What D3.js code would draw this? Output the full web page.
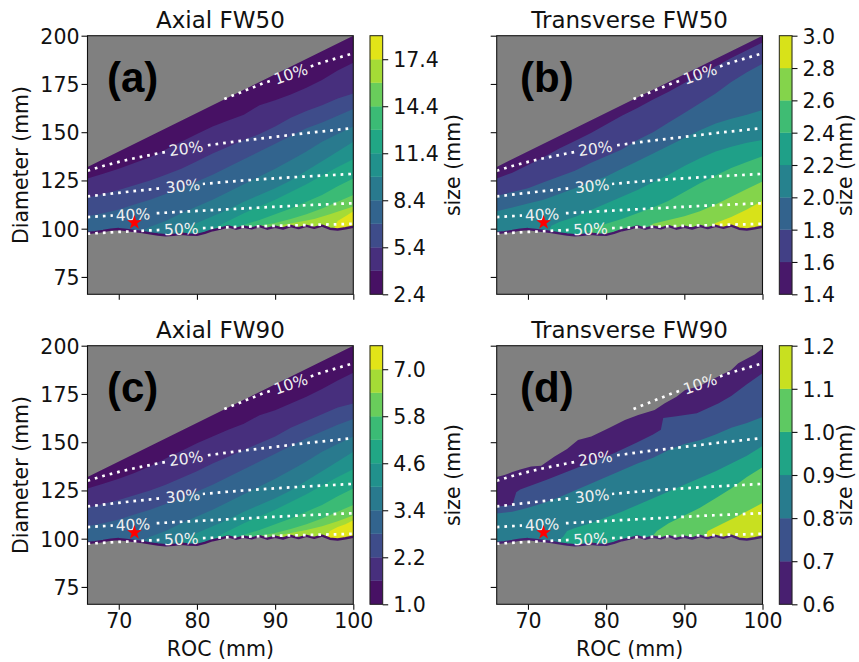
<!DOCTYPE html>
<html>
<head>
<meta charset="utf-8">
<script src="https://cdn.jsdelivr.net/npm/d3@7"></script>
<style>
  body { margin: 0; background: #fff; }
  svg text { font-family: "DejaVu Sans", sans-serif; fill: #111; }
</style>
</head>
<body>
<svg id="fig" width="859" height="662"></svg>
<script>
// ---- axes -----------------------------------------------------------------
const rocDomain = [66, 100];
const diamDomain = [66, 200];
const rocTicks = [70, 80, 90, 100];
const diamTicks = [75, 100, 125, 150, 175, 200];

// ---- filled-contour levels and colourbar ticks ------------------------------
const levelsA = [2.4, 3.9, 5.4, 6.9, 8.4, 9.9, 11.4, 12.9, 14.4, 15.9, 17.4, 18.9];
const cbarTicksA = [2.4, 5.4, 8.4, 11.4, 14.4, 17.4];
const levelsB = [1.4, 1.6, 1.8, 2.0, 2.2, 2.4, 2.6, 2.8, 3.0];
const cbarTicksB = [1.4, 1.6, 1.8, 2.0, 2.2, 2.4, 2.6, 2.8, 3.0];
const levelsC = [1.0, 1.6, 2.2, 2.8, 3.4, 4.0, 4.6, 5.2, 5.8, 6.4, 7.0, 7.6];
const cbarTicksC = [1.0, 2.2, 3.4, 4.6, 5.8, 7.0];
const levelsD = [0.6, 0.7, 0.8, 0.9, 1.0, 1.1, 1.2];
const cbarTicksD = [0.6, 0.7, 0.8, 0.9, 1.0, 1.1, 1.2];

// ---- valid (ROC, Diameter) region ------------------------------------------
const lowerEdge = [[66,97.8],[67,98.2],[68,98.8],[69,99.5],[70,99.8],[71,99.3],[72,98.8],[73,98.3],
  [74,97.6],[75,97.0],[76,96.6],[77,96.8],[78,97.4],[79,97.0],[80,96.8],[81,97.8],[82,99.2],
  [83,100.0],[84,101.2],[85,100.0],[86,101.0],[87,100.2],[88,101.3],[89,100.0],[90,101.0],
  [91,100.1],[92,101.4],[93,100.3],[94,101.5],[95,100.4],[96,101.6],[97,100.0],[98,99.6],
  [99,100.2],[100,101.0]];
const upperEdge = [[66,132],[100,200]];
const upperEdgeD = [[66,132],[67,133],[68,134.5],[69,135.8],[70.4,137.4],[71.7,137.8],[73.4,142.6],
  [75,146.5],[76.4,151.2],[78.1,152.9],[80.3,157.2],[82.4,161.5],[84.1,164.1],[86.2,166.7],
  [87.5,170.2],[89,173.5],[90.1,177.1],[91.8,178.8],[93.9,183.1],[96,187.4],[96.9,190.9],
  [99,195.5],[100,198.5]];

// ---- contour level boundaries (ROC, Diameter), lowest level first ---------
const edgesA = [
  [[66,126],[68,128.5],[70,131],[72,134],[74,137],[76,141],[78,145],[80,149],[82,153],[84,156],[86,159],[88,164],[90,166.5],[92,169.5],[94,173],[96,177],[98,182],[100,186]],
  [[66,116],[68,118],[70,120],[72,122.5],[74,125],[76,128],[78,131],[80,135],[82,139],[84,142.5],[86,146],[88,149],[90,153],[92,157.5],[94,161],[96,164],[98,167.5],[100,170]],
  [[66,106.5],[68,108],[70,110],[72,112.5],[74,115],[76,118],[78,121],[80,124.5],[82,128],[84,132],[86,136],[88,140],[90,144],[92,148],[94,152],[96,155],[98,158.5],[100,162]],
  [[72.5,97],[74,101],[76,104],[78,108],[80,111.5],[82,115],[84,119],[86,123],[88,127],[90,131],[92,135.5],[94,140],[96,145],[98,149],[100,153]],
  [[76.5,96],[78,99.5],[80,103],[82,106.5],[84,110],[86,114],[88,117.5],[90,121],[92,125],[94,130],[96,135],[98,140],[100,145]],
  [[80.5,96.5],[82,100],[84,104],[86,108],[88,111.5],[90,115],[92,119],[94,123],[96,127.5],[98,132],[100,136]],
  [[84,99.5],[86,102],[88,104.5],[90,107.5],[92,110.5],[94,114],[96,117.5],[98,122],[100,126]],
  [[85.5,99.5],[88,101.5],[90,103],[92,105],[94,107.5],[96,110.5],[98,114],[100,117.5]],
  [[89,99.5],[91,102],[93,103.5],[95,105],[97,107.5],[100,111.5]],
  [[97.5,99.5],[98,104],[99,106.5],[100,109]]
];
const edgesB = [
  [[66,126],[68,129],[70,133],[72,137],[74,141.5],[76,145.5],[78,149.5],[80,154],[82,158.5],[84,162.5],[86,167],[88,171],[90,175.5],[92,179.5],[94,184],[96,188.5],[98,192.5],[100,196.5]],
  [[66,117],[68,119],[70,121],[72,124],[74,127],[76,130],[78,134],[80,137.5],[82,141],[84,146],[86,150],[88,155],[90,160],[92,165],[94,170],[96,176],[98,181],[100,185.5]],
  [[66,109],[68,111],[70,113],[72,115],[74,118],[76,121],[78,124],[80,127],[82,131],[84,135],[86,139],[88,143],[90,147],[92,151],[94,154.5],[96,157],[98,159],[100,161.5]],
  [[72.5,97.5],[73,101.5],[74,103.5],[76,106],[78,109.5],[80,113],[82,116.5],[84,120],[86,124],[88,128],[90,132.5],[92,136.5],[94,140],[96,142.5],[98,144.5],[100,146]],
  [[77.5,96.5],[78,100],[80,102.5],[82,105],[84,108],[86,111],[88,114.5],[90,119],[92,123.5],[94,127.5],[96,131.5],[98,134.5],[100,137.5]],
  [[85,99.5],[86,102.5],[88,104.5],[90,106.5],[92,109],[94,112.5],[96,116.5],[98,120.5],[100,124.5]],
  [[93,100],[94,103],[96,106],[98,110],[100,114.5]]
];
const edgesC = [
  [[66,126],[68,128.5],[70,131],[72,134],[74,137.5],[76,141.5],[78,145.5],[80,149.5],[82,153],[84,156.5],[86,159.5],[88,164],[90,166.5],[92,170],[94,173.5],[96,177.5],[98,182],[100,186]],
  [[66,116],[68,118],[70,120],[72,122.5],[74,125],[76,128],[78,131.5],[80,135],[82,139],[84,142.5],[86,146],[88,149.5],[90,153],[92,157.5],[94,161],[96,164.5],[98,168],[100,170]],
  [[66,106.5],[68,108],[70,110],[72,112.5],[74,115],[76,118],[78,121],[80,124.5],[82,128],[84,132],[86,136],[88,140],[90,144],[92,148],[94,152],[96,155.5],[98,159],[100,162]],
  [[72.5,97],[74,101],[76,104],[78,108],[80,111.5],[82,115],[84,119],[86,123],[88,127],[90,131],[92,135.5],[94,140],[96,145],[98,149],[100,153]],
  [[76.5,96],[78,99.5],[80,103],[82,106.5],[84,110],[86,114],[88,117.5],[90,121],[92,125],[94,130],[96,135],[98,140],[100,145]],
  [[80.5,96.5],[82,100],[84,104],[86,108],[88,111.5],[90,115],[92,119],[94,123],[96,127.5],[98,132],[100,136]],
  [[84,99.5],[86,102],[88,104.5],[90,107.5],[92,110.5],[94,114],[96,117.5],[98,122],[100,126]],
  [[85.5,99.5],[88,101.5],[90,103],[92,105],[94,107.5],[96,110.5],[98,114],[100,117.5]],
  [[88,99.5],[90,101.5],[92,103],[94,104.5],[96,106.5],[98,109],[100,112]],
  [[96.5,99.8],[97,104],[98,106],[99,107.5],[100,109.5]]
];
const edgesD = [
  [[66,116.7],[68,117.5],[68.5,124],[69,125.5],[72.4,130.5],[76.7,137.4],[81,144.3],[84,150],[86,154],[87,156.4],[87.3,162.5],[89,163.5],[91.6,165],[94.4,170.2],[96,174],[98,180],[100,185.7]],
  [[66,113],[68,114],[70,116],[72,118.5],[74,121.5],[76,125],[78,128.5],[80,132],[82,135.5],[84,139],[86,142],[88,146],[90,149],[92,151],[94,154],[96,157.5],[98,160],[100,163]],
  [[73.5,97.5],[74.5,101],[75,104],[76,105.5],[78,108],[80,111],[82,114],[84,117.5],[86,121],[88,124.5],[90,128],[92,131.5],[94,135],[96,139],[98,143],[100,148]],
  [[85.5,99.5],[86.5,104],[88,108],[90,112],[92,116],[94,121],[96,126],[98,132],[100,137]],
  [[92.5,100],[93,104],[95,108],[97,112],[100,118.5]]
];

// ---- iso-percentage guide lines and their inline labels ---------------------
const pct10 = [[83.5,167.2],[86,171.3],[88.4,175.2],[92,180.2],[95.6,185.6],[100,190.9]];
const pct20 = [[66,130],[68,132.5],[70,134.6],[72,136.5],[75,139],[78,141.3],[81,143],[85,145.2],[90,147.6],[95,150],[100,152.1]];
const pct30 = [[66,116.7],[70,118.6],[75,120.8],[80,122.9],[85,124.7],[90,126.1],[95,127.3],[100,128.4]];
const pct40 = [[66,106],[70,107],[74.3,107.9],[80,109.2],[87,110.7],[93,112],[100,113.2]];
const pct50 = [[66,97.4],[70,98.3],[75,99.3],[80,100.2],[85,100.9],[90,101.5],[95,102],[100,102.5]];
const pctNames = ["10%", "20%", "30%", "40%", "50%"];
const pctLabelRoc = [92.0, 78.6, 78.2, 71.8, 78.0];

// selected design point
const marker = [72, 103.2];

const titles = ["Axial FW50", "Transverse FW50", "Axial FW90", "Transverse FW90"];
const letters = ["(a)", "(b)", "(c)", "(d)"];

// ---- layout ----------------------------------------------------------------
const PW = 265.8, PH = 258.6, CBW = 12.7;
const panels = [
  {left: 87.5,  top: 35.7,  cbx: 370,   cbLabelX: 460, letterDx: 19.5, edges: edgesA, levels: levelsA, ticks: cbarTicksA, upper: upperEdge,  showY: true,  showX: false},
  {left: 496.7, top: 35.7,  cbx: 779.3, cbLabelX: 852, letterDx: 23.3, edges: edgesB, levels: levelsB, ticks: cbarTicksB, upper: upperEdge,  showY: false, showX: false},
  {left: 87.5,  top: 345.7, cbx: 370,   cbLabelX: 460, letterDx: 19.5, edges: edgesC, levels: levelsC, ticks: cbarTicksC, upper: upperEdge,  showY: true,  showX: true},
  {left: 496.7, top: 345.7, cbx: 779.3, cbLabelX: 852, letterDx: 23.3, edges: edgesD, levels: levelsD, ticks: cbarTicksD, upper: upperEdgeD, showY: false, showX: true}
];

const svg = d3.select("#fig");
const defs = svg.append("defs");
const pctLines = [pct10, pct20, pct30, pct40, pct50];

function interpAt(pts, r) {
  for (let i = 0; i < pts.length - 1; i++) {
    if (r >= pts[i][0] && r <= pts[i + 1][0]) {
      const t = (r - pts[i][0]) / (pts[i + 1][0] - pts[i][0]);
      return {d: pts[i][1] + t * (pts[i + 1][1] - pts[i][1]), i};
    }
  }
  return {d: pts[pts.length - 1][1], i: pts.length - 2};
}

panels.forEach((p, idx) => {
  const id = "p" + idx;
  const x = d3.scaleLinear().domain(rocDomain).range([p.left, p.left + PW]);
  const y = d3.scaleLinear().domain(diamDomain).range([p.top + PH, p.top]);
  const line = d3.line().x(d => x(d[0])).y(d => y(d[1]));
  const nb = p.levels.length - 1;
  const color = i => d3.interpolateViridis((i + 0.5) / nb);

  defs.append("clipPath").attr("id", "plot-" + id)
    .append("rect").attr("x", p.left).attr("y", p.top).attr("width", PW).attr("height", PH);
  const region = p.upper.concat(lowerEdge.slice().reverse());
  defs.append("clipPath").attr("id", "valid-" + id)
    .append("path").attr("d", line(region) + "Z");

  const g = svg.append("g");
  const plot = g.append("g").attr("clip-path", `url(#plot-${id})`);
  plot.append("rect").attr("x", p.left).attr("y", p.top).attr("width", PW).attr("height", PH)
    .attr("fill", "#808080");

  // filled bands: each level paints the area on its high side
  const fills = plot.append("g").attr("clip-path", `url(#valid-${id})`);
  fills.append("rect").attr("x", p.left).attr("y", p.top).attr("width", PW).attr("height", PH)
    .attr("fill", color(0));
  p.edges.forEach((edge, k) => {
    const first = edge[0], last = edge[edge.length - 1];
    const poly = edge.concat([[last[0] + 2, last[1]], [last[0] + 2, 40], [first[0], 40]]);
    fills.append("path").attr("d", line(poly) + "Z").attr("fill", color(k + 1));
  });
  plot.append("path").attr("d", line(lowerEdge)).attr("fill", "none")
    .attr("stroke", color(0)).attr("stroke-width", 2.4).attr("stroke-linejoin", "round");

  // label gaps in the guide lines
  const mask = defs.append("mask").attr("id", "gap-" + id)
    .attr("maskUnits", "userSpaceOnUse").attr("x", 0).attr("y", 0).attr("width", 859).attr("height", 662);
  mask.append("rect").attr("width", 859).attr("height", 662).attr("fill", "#fff");
  const labels = pctLines.map((pts, j) => {
    const r = pctLabelRoc[j];
    const {d, i} = interpAt(pts, r);
    const a = Math.atan2(y(pts[i + 1][1]) - y(pts[i][1]), x(pts[i + 1][0]) - x(pts[i][0])) * 180 / Math.PI;
    return {cx: x(r), cy: y(d), a, t: pctNames[j]};
  });
  labels.forEach(l => {
    mask.append("rect").attr("x", -20).attr("y", -7).attr("width", 40).attr("height", 14)
      .attr("fill", "#000").attr("transform", `translate(${l.cx},${l.cy}) rotate(${l.a})`);
  });
  const guides = plot.append("g").attr("mask", `url(#gap-${id})`);
  pctLines.forEach(pts => {
    guides.append("path").attr("d", line(pts)).attr("fill", "none")
      .attr("stroke", "#fff").attr("stroke-width", 2.7).attr("stroke-dasharray", "2.7,5");
  });
  labels.forEach(l => {
    plot.append("text").attr("transform", `translate(${l.cx},${l.cy}) rotate(${l.a})`)
      .attr("text-anchor", "middle").attr("dy", "0.36em")
      .style("font-size", "15.5px").style("fill", "#f0f0f0").text(l.t);
  });

  plot.append("path")
    .attr("d", d3.symbol(d3.symbolStar).size(66)())
    .attr("transform", `translate(${x(marker[0])},${y(marker[1])})`)
    .attr("fill", "#ff0000");

  g.append("text").attr("x", p.left + p.letterDx).attr("y", p.top + 56.3)
    .style("font-family", "'Liberation Sans', Arial, sans-serif").style("font-weight", "bold")
    .style("font-size", "42px").style("fill", "#000").text(letters[idx]);

  g.append("rect").attr("x", p.left).attr("y", p.top).attr("width", PW).attr("height", PH)
    .attr("fill", "none").attr("stroke", "#111").attr("stroke-width", 1.1);

  // axes
  const yAxis = d3.axisLeft(y).tickValues(diamTicks).tickSize(6).tickPadding(2);
  if (!p.showY) yAxis.tickFormat("");
  const ya = g.append("g").attr("transform", `translate(${p.left},0)`).call(yAxis);
  const xAxis = d3.axisBottom(x).tickValues(rocTicks).tickSize(5.5).tickPadding(4);
  if (!p.showX) xAxis.tickFormat("");
  const xa = g.append("g").attr("transform", `translate(0,${p.top + PH})`).call(xAxis);
  [ya, xa].forEach(ax => {
    ax.select(".domain").remove();
    ax.selectAll("line").attr("stroke", "#111").attr("stroke-width", 1.1);
    ax.selectAll("text").style("font-size", "20.5px").style("font-family", "'DejaVu Sans', sans-serif").attr("fill", "#111");
  });
  ya.selectAll("text").attr("dy", "0.36em");

  if (p.showY) {
    g.append("text").attr("transform", `translate(28,${p.top + PH / 2}) rotate(-90)`)
      .attr("text-anchor", "middle").style("font-size", "20.5px").text("Diameter (mm)");
  }
  if (p.showX) {
    g.append("text").attr("x", p.left + PW / 2).attr("y", 655.7)
      .attr("text-anchor", "middle").style("font-size", "20.5px").text("ROC (mm)");
  }
  g.append("text").attr("x", p.left + PW / 2).attr("y", p.top - 7.4)
    .attr("text-anchor", "middle").style("font-size", "23px").text(titles[idx]);

  // colourbar
  const cy = d3.scaleLinear().domain([p.levels[0], p.levels[nb]]).range([p.top + PH, p.top]);
  const cb = g.append("g");
  d3.range(nb).forEach(i => {
    cb.append("rect").attr("x", p.cbx).attr("y", cy(p.levels[i + 1]))
      .attr("width", CBW).attr("height", cy(p.levels[i]) - cy(p.levels[i + 1]))
      .attr("fill", color(i)).attr("stroke", color(i)).attr("stroke-width", 0.3);
  });
  cb.append("rect").attr("x", p.cbx).attr("y", p.top).attr("width", CBW).attr("height", PH)
    .attr("fill", "none").attr("stroke", "#222").attr("stroke-width", 1);
  const ca = cb.append("g").attr("transform", `translate(${p.cbx + CBW},0)`)
    .call(d3.axisRight(cy).tickValues(p.ticks).tickSize(5.5).tickPadding(5).tickFormat(d3.format(".1f")));
  ca.select(".domain").remove();
  ca.selectAll("line").attr("stroke", "#111").attr("stroke-width", 1.1);
  ca.selectAll("text").style("font-size", "20.5px").style("font-family", "'DejaVu Sans', sans-serif")
    .attr("fill", "#111").attr("dy", "0.36em");
  g.append("text").attr("transform", `translate(${p.cbLabelX},${p.top + PH / 2}) rotate(-90)`)
    .attr("text-anchor", "middle").style("font-size", "20.5px").text("size (mm)");
});
</script>
</body>
</html>
